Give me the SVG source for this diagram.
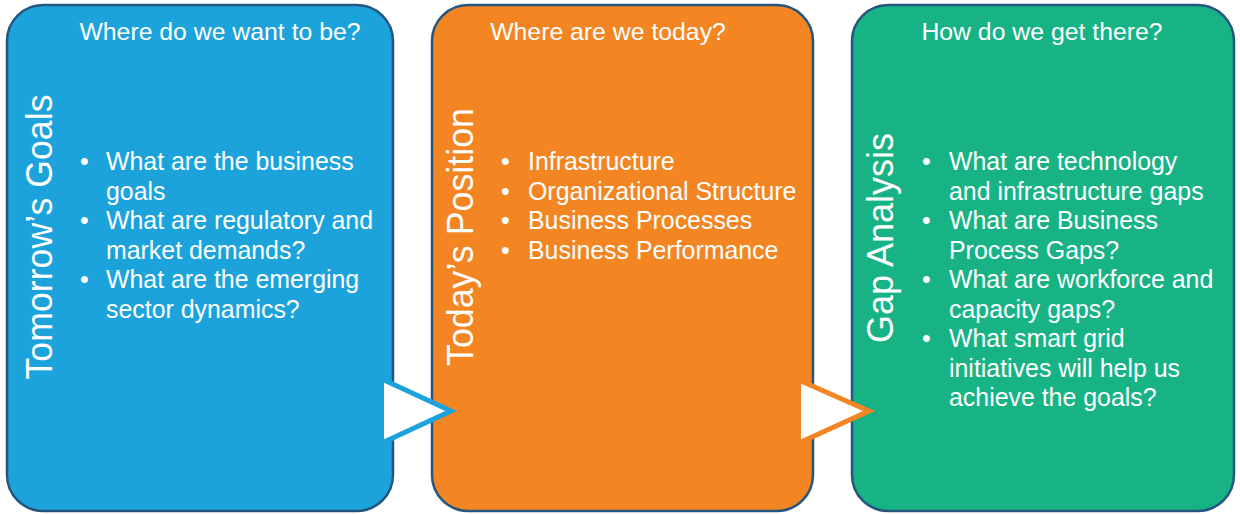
<svg xmlns="http://www.w3.org/2000/svg" width="1240" height="514" viewBox="0 0 1240 514">
<style>
.box{stroke:#24567f;stroke-width:2.5}
.t{font-family:"Liberation Sans",Arial,sans-serif;fill:#ffffff}
.title{font-size:24.8px;text-anchor:middle}
.side{font-size:36px;text-anchor:middle}
.b{font-size:24.9px}
.tri{fill:#ffffff;stroke:none}
.edge{fill:none;stroke-width:5;stroke-linejoin:miter}
</style>
<rect width="1240" height="514" fill="#ffffff"/>
<g id="node-goals">
<rect class="box" x="7" y="5" width="386" height="506" rx="36" ry="36" fill="#1ca3dc"/>
<text class="t title" x="220" y="40">Where do we want to be?</text>
<text class="t side" transform="translate(52,237) rotate(-90)" textLength="285" lengthAdjust="spacingAndGlyphs">Tomorrow’s Goals</text>
<g class="t b">
<text x="80" y="170">•</text><text x="106" y="170">What are the business</text>
<text x="106" y="199.5">goals</text>
<text x="80" y="229">•</text><text x="106" y="229">What are regulatory and</text>
<text x="106" y="258.5">market demands?</text>
<text x="80" y="288">•</text><text x="106" y="288">What are the emerging</text>
<text x="106" y="317.5">sector dynamics?</text>
</g>
</g>
<g id="node-today">
<rect class="box" x="432" y="5" width="381" height="506" rx="36" ry="36" fill="#f38522"/>
<text class="t title" x="608" y="40">Where are we today?</text>
<text class="t side" transform="translate(473,237) rotate(-90)" textLength="258" lengthAdjust="spacingAndGlyphs">Today’s Position</text>
<g class="t b">
<text x="501" y="170">•</text><text x="528" y="170">Infrastructure</text>
<text x="501" y="199.5">•</text><text x="528" y="199.5">Organizational Structure</text>
<text x="501" y="229">•</text><text x="528" y="229">Business Processes</text>
<text x="501" y="258.5">•</text><text x="528" y="258.5">Business Performance</text>
</g>
</g>
<g id="node-gap">
<rect class="box" x="852" y="5" width="382" height="506" rx="36" ry="36" fill="#17b385"/>
<text class="t title" x="1042" y="40">How do we get there?</text>
<text class="t side" transform="translate(893,238) rotate(-90)" textLength="210" lengthAdjust="spacingAndGlyphs">Gap Analysis</text>
<g class="t b">
<text x="922" y="170">•</text><text x="949" y="170">What are technology</text>
<text x="949" y="199.5">and infrastructure gaps</text>
<text x="922" y="229">•</text><text x="949" y="229">What are Business</text>
<text x="949" y="258.5">Process Gaps?</text>
<text x="922" y="288">•</text><text x="949" y="288">What are workforce and</text>
<text x="949" y="317.5">capacity gaps?</text>
<text x="922" y="347">•</text><text x="949" y="347">What smart grid</text>
<text x="949" y="376.5">initiatives will help us</text>
<text x="949" y="406">achieve the goals?</text>
</g>
</g>
<g id="connectors">
<polygon class="tri" points="384,382 451,411 384,440"/>
<polyline class="edge" stroke="#1ca3dc" points="384,380 451,411 384,442"/>
<polygon class="tri" points="801,383 869,411 801,440"/>
<polyline class="edge" stroke="#f38522" points="801,381 869,411 801,442"/>
</g>
</svg>
